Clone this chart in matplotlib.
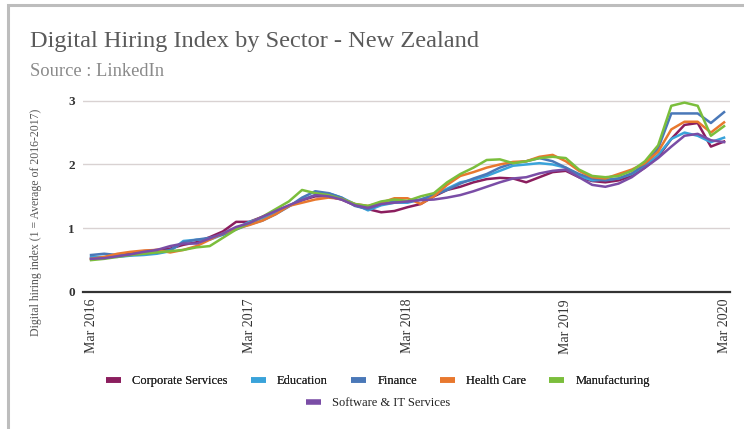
import matplotlib
matplotlib.use('Agg')
import matplotlib.pyplot as plt
from matplotlib.lines import Line2D
from matplotlib.patches import Rectangle
import numpy as np

# monthly index values, Mar 2016 .. Mar 2020 (49 months)
corporate = [0.52, 0.54, 0.57, 0.61, 0.64, 0.66, 0.68, 0.74, 0.78, 0.86, 0.95, 1.10, 1.10,
             1.18, 1.27, 1.35, 1.44, 1.50, 1.50, 1.45, 1.36, 1.30, 1.25, 1.27, 1.33,
             1.38, 1.50, 1.60, 1.65, 1.72, 1.77, 1.79, 1.78, 1.72, 1.80, 1.88, 1.90,
             1.80, 1.74, 1.72, 1.75, 1.82, 1.95, 2.12, 2.40, 2.62, 2.65, 2.28, 2.36]
education = [0.55, 0.55, 0.55, 0.57, 0.58, 0.60, 0.64, 0.80, 0.82, 0.82, 0.90, 1.00, 1.10,
             1.16, 1.25, 1.35, 1.45, 1.52, 1.55, 1.48, 1.38, 1.28, 1.36, 1.40, 1.40,
             1.45, 1.52, 1.62, 1.72, 1.76, 1.82, 1.90, 1.98, 2.00, 2.02, 2.00, 1.95,
             1.82, 1.75, 1.76, 1.78, 1.85, 1.98, 2.15, 2.40, 2.50, 2.45, 2.35, 2.42]
finance = [0.58, 0.60, 0.58, 0.58, 0.60, 0.62, 0.66, 0.78, 0.82, 0.85, 0.90, 0.98, 1.06,
           1.12, 1.22, 1.34, 1.48, 1.58, 1.55, 1.48, 1.35, 1.30, 1.38, 1.42, 1.42,
           1.45, 1.52, 1.60, 1.70, 1.78, 1.85, 1.95, 2.02, 2.05, 2.10, 2.05, 1.95,
           1.85, 1.78, 1.75, 1.78, 1.86, 2.00, 2.25, 2.80, 2.80, 2.80, 2.65, 2.82]
health = [0.52, 0.55, 0.60, 0.63, 0.65, 0.66, 0.62, 0.66, 0.72, 0.82, 0.92, 1.00, 1.05,
          1.12, 1.22, 1.35, 1.40, 1.45, 1.48, 1.46, 1.38, 1.35, 1.40, 1.47, 1.47,
          1.38, 1.50, 1.68, 1.82, 1.88, 1.95, 2.00, 2.04, 2.05, 2.12, 2.15, 2.05,
          1.90, 1.80, 1.78, 1.85, 1.92, 2.02, 2.20, 2.55, 2.67, 2.67, 2.50, 2.66]
manufacturing = [0.50, 0.52, 0.55, 0.58, 0.60, 0.62, 0.64, 0.66, 0.70, 0.72, 0.85, 0.98, 1.08,
                 1.18, 1.30, 1.42, 1.60, 1.55, 1.52, 1.46, 1.38, 1.35, 1.42, 1.45, 1.43,
                 1.50, 1.55, 1.72, 1.85, 1.95, 2.07, 2.08, 2.02, 2.05, 2.10, 2.12, 2.10,
                 1.92, 1.82, 1.80, 1.82, 1.90, 2.05, 2.30, 2.92, 2.97, 2.92, 2.45, 2.60]
software = [0.52, 0.53, 0.56, 0.59, 0.63, 0.66, 0.72, 0.76, 0.76, 0.84, 0.92, 1.02, 1.08,
            1.18, 1.27, 1.36, 1.44, 1.52, 1.50, 1.45, 1.36, 1.32, 1.38, 1.40, 1.42,
            1.44, 1.45, 1.48, 1.52, 1.58, 1.65, 1.72, 1.78, 1.80, 1.86, 1.90, 1.92,
            1.80, 1.68, 1.65, 1.70, 1.80, 1.95, 2.10, 2.28, 2.45, 2.48, 2.38, 2.35]

sectors = ['Corporate Services', 'Education', 'Finance', 'Health Care', 'Manufacturing',
           'Software & IT Services']
series = [corporate, education, finance, health, manufacturing, software]
colors = ['#8B1E5E', '#3AA3DA', '#4A78B8', '#E8782E', '#7BBE3C', '#7A4DA6']

tick_pos = [0, 12, 24, 36, 48]
tick_labels = ['Mar 2016', 'Mar 2017', 'Mar 2018', 'Mar 2019', 'Mar 2020']

plt.rcParams['font.family'] = ['Liberation Serif', 'DejaVu Serif']

fig = plt.figure(figsize=(7.44, 4.29), dpi=100)
fig.patch.set_facecolor('white')

# page border (only top and left visible in the crop)
fig.patches.append(Rectangle((8 / 744, -0.1), 1.2, 1 - 5 / 429 + 0.1, transform=fig.transFigure,
                             fill=False, edgecolor='#bdbdbd', linewidth=2.2))

fig.text(30 / 744, 1 - 42 / 429, 'Digital Hiring Index by Sector - New Zealand',
         fontsize=17.6, color='#5a5a5a', va='center', ha='left')
fig.text(30 / 744, 1 - 72 / 429, 'Source : LinkedIn', fontsize=13.3, color='#8a8a8a',
         va='center', ha='left')

ax = fig.add_axes([83 / 744, 1 - 292 / 429, 647 / 744, (292 - 97.5) / 429])
x = np.arange(len(corporate))
for vals, c, name in zip(series, colors, sectors):
    ax.plot(x, vals, color=c, linewidth=1.8, label=name, solid_joinstyle='round')

ax.set_xlim(-0.61, 48.45)
ax.set_ylim(0, 3.05)
ax.set_yticks([0, 1, 2, 3])
ax.set_yticklabels(['0', '1', '2', '3'], fontweight='bold', fontsize=9.5, color='#333333')
ax.set_xticks(tick_pos)
ax.set_xticklabels(tick_labels, rotation=90, fontsize=10, color='#333333')
ax.tick_params(axis='both', length=0, pad=5)
ax.tick_params(axis='y', pad=6)
ax.grid(axis='y', color='#d9d2d2', linewidth=1)
ax.set_axisbelow(True)
for s in ['top', 'right', 'left']:
    ax.spines[s].set_visible(False)
ax.spines['bottom'].set_color('#333333')
ax.spines['bottom'].set_linewidth(1.6)

fig.text(36 / 744, 1 - 222 / 429, 'Digital hiring index (1 = Average of 2016-2017)',
         rotation=90, fontsize=8.5, color='#555555', va='center', ha='center')

handles = [Line2D([], [], color=c, linewidth=4, solid_capstyle='butt') for c in colors]
leg1 = fig.legend(handles[:5], sectors[:5], ncol=5, loc='center',
                  bbox_to_anchor=(378 / 744, 1 - 381 / 429), frameon=False, fontsize=9,
                  handlelength=1.2, columnspacing=1.85, handletextpad=0.9,
                  labelcolor='#222222')
fig.legend(handles[5:], sectors[5:], ncol=1, loc='center',
           bbox_to_anchor=(378 / 744, 1 - 403 / 429), frameon=False, fontsize=9,
           handlelength=1.2, handletextpad=0.9, labelcolor='#222222')
fig.add_artist(leg1)

fig.savefig('out.png', dpi=100)
